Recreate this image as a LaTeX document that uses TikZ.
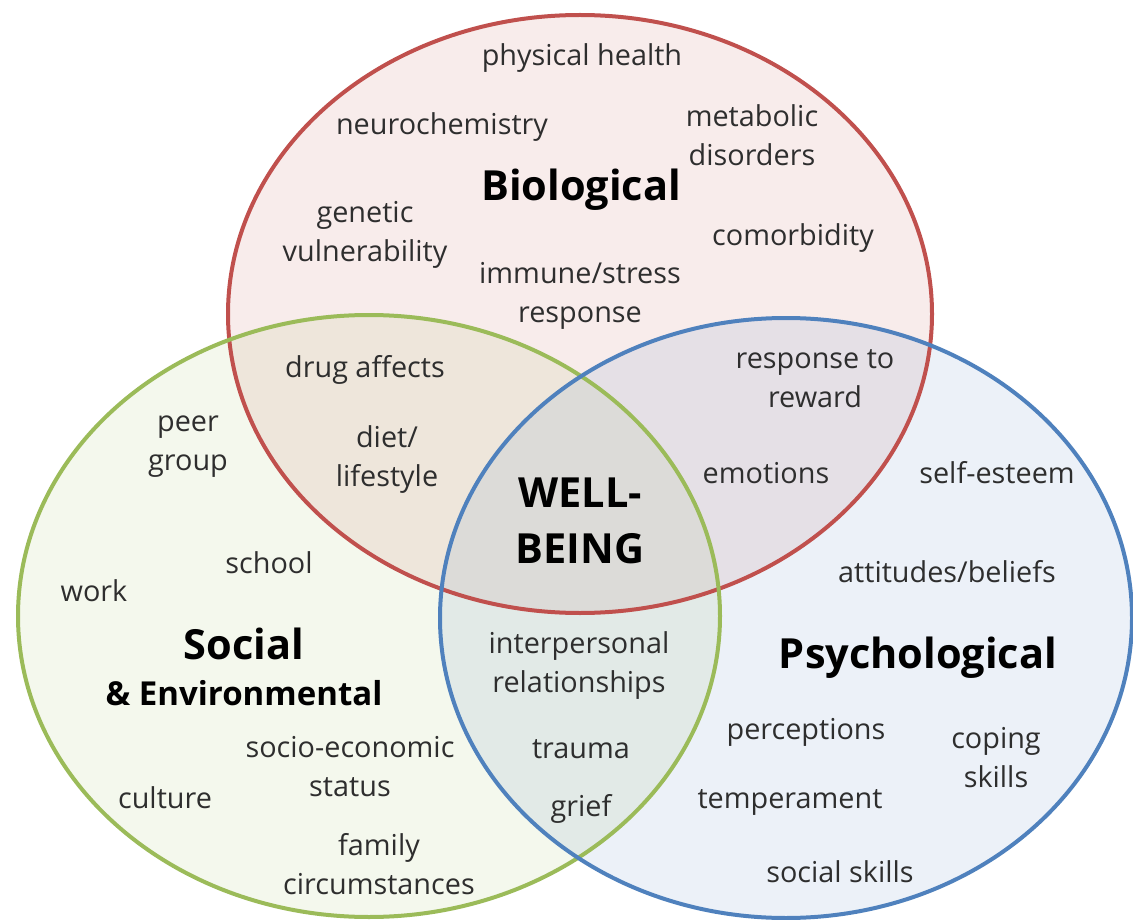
\documentclass[tikz,border=0pt]{standalone}
\usepackage{fontspec}
\setmainfont{Open Sans}
\definecolor{bioRed}{HTML}{C0504D}
\definecolor{socGreen}{HTML}{9BBB59}
\definecolor{psyBlue}{HTML}{4F81BD}
\tikzset{
    factor/.style={align=center, text=black!82, font=\fontsize{28.8}{39}\selectfont},
    sphere/.style={align=center, text=black, font=\fontsize{41.5}{56}\selectfont\bfseries},
    subsphere/.style={align=center, text=black, font=\fontsize{33}{38}\selectfont\bfseries},
    area/.style={fill opacity=0.11},
    rim/.style={line width=4pt}
}

\begin{document}
\begin{tikzpicture}[x=1pt, y=-1pt]
    \useasboundingbox (0,0) rectangle (1133,920);
    % the three overlapping areas
    \fill[bioRed, area] (580,314) ellipse [x radius=352pt, y radius=299pt];
    \fill[socGreen, area] (369,616) ellipse [x radius=351pt, y radius=301pt];
    \fill[psyBlue, area] (786,618) ellipse [x radius=346pt, y radius=300pt];
    \draw[bioRed, rim] (580,314) ellipse [x radius=352pt, y radius=299pt];
    \draw[socGreen, rim] (369,616) ellipse [x radius=351pt, y radius=301pt];
    \draw[psyBlue, rim] (786,618) ellipse [x radius=346pt, y radius=300pt];

    % biological
    \node[sphere] (bio) at (581,190) {Biological};
    \node[factor] (health) at (582,58) {physical health};
    \node[factor] (neuro) at (442,127) {neurochemistry};
    \node[factor] (metab) at (752,135) {metabolic\\disorders};
    \node[factor] (genetic) at (365,235) {genetic\\vulnerability};
    \node[factor] (comorb) at (793,238) {comorbidity};
    \node[factor] (immune) at (580,296) {immune/stress\\response};

    % biological and social
    \node[factor] (drug) at (365,370) {drug affects};
    \node[factor] (diet) at (387,460) {diet/\\lifestyle};

    % biological and psychological
    \node[factor] (reward) at (815,379) {response to\\reward};
    \node[factor] (emotion) at (766,473) {emotions};

    % centre
    \node[sphere] (well) at (580,521) {WELL-\\BEING};

    % social
    \node[sphere] (soc) at (244,644) {Social};
    \node[subsphere] (env) at (244,693) {\& Environmental};
    \node[factor] (peer) at (188,447) {peer\\group};
    \node[factor] (school) at (269,563) {school};
    \node[factor] (work) at (94,591) {work};
    \node[factor] (status) at (350,767) {socio-economic\\status};
    \node[factor] (culture) at (165,798) {culture};
    \node[factor] (family) at (379,864) {family\\circumstances};

    % social and psychological
    \node[factor] (interp) at (579,666) {interpersonal\\relationships};
    \node[factor] (trauma) at (581,749) {trauma};
    \node[factor] (grief) at (581,809) {grief};

    % psychological
    \node[sphere] (psy) at (918,658) {Psychological};
    \node[factor] (esteem) at (997,473) {self-esteem};
    \node[factor] (belief) at (947,572) {attitudes/beliefs};
    \node[factor] (percep) at (806,732) {perceptions};
    \node[factor] (coping) at (996,758) {coping\\skills};
    \node[factor] (temper) at (790,802) {temperament};
    \node[factor] (skills) at (840,872) {social skills};
\end{tikzpicture}
\end{document}
